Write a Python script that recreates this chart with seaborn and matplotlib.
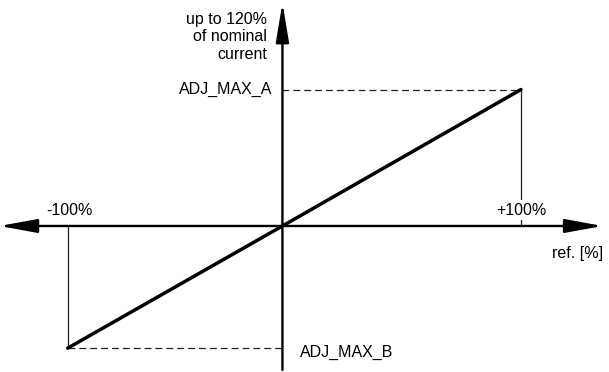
import matplotlib
matplotlib.use("Agg")
import matplotlib.pyplot as plt
import seaborn as sns
import pandas as pd

# ---- data (schematic) ----
ref = [-90, 0, 100]            # reference [%] positions of the line
current = [-89.5, 0, 100]      # output current (ADJ_MAX_B ... ADJ_MAX_A)
x_labels = ["-100%", "+100%"]
y_labels = ["ADJ_MAX_A", "ADJ_MAX_B"]
y_title = "up to 120%\nof nominal\ncurrent"
x_title = "ref. [%]"

sns.set_theme(style="white")
plt.rcParams["font.family"] = ["Liberation Sans", "DejaVu Sans"]
plt.rcParams["text.color"] = "black"

W, H = 609, 372
fig = plt.figure(figsize=(W / 100, H / 100), dpi=100)
ax = fig.add_axes([0, 0, 1, 1])
ax.axis("off")
ax.set_xlim(-118.4, 136.9)
ax.set_ylim(-107.0, 165.6)

df = pd.DataFrame({"ref": ref, "current": current})
FS = 11.5

# axes with arrows
ax.annotate("", xy=(134.2, 0), xytext=(-118.6, 0),
            arrowprops=dict(arrowstyle="<|-|>,head_length=2.3,head_width=0.42",
                            mutation_scale=10, lw=1.7, color="black",
                            shrinkA=0, shrinkB=0), zorder=3)
ax.annotate("", xy=(0, 163.6), xytext=(0, -105.5),
            arrowprops=dict(arrowstyle="-|>,head_length=2.4,head_width=0.4",
                            mutation_scale=10, lw=1.7, color="black",
                            shrinkA=0, shrinkB=0), zorder=3)

xa, xb = ref[-1], ref[0]
ya, yb = current[-1], current[0]

# guide lines
ax.plot([0, xa], [ya, ya], ls=(0, (5.5, 3.2)), lw=0.9, color="#222222", zorder=1)
ax.plot([xb, 0], [yb, yb], ls=(0, (5.5, 3.2)), lw=0.9, color="#222222", zorder=1)
ax.plot([xa, xa], [ya, 0], lw=0.9, color="#222222", zorder=1)
ax.plot([xb, xb], [0, yb], lw=0.9, color="#222222", zorder=1)

# main characteristic
sns.lineplot(data=df, x="ref", y="current", ax=ax, color="black", lw=2.5,
             zorder=4, legend=False)
ax.axis("off")

# texts
tkw = dict(fontsize=FS, color="black")
ax.annotate(y_labels[0], xy=(0, ya), xytext=(-7, -3.4), textcoords="offset points",
            ha="right", va="baseline", **tkw)
ax.annotate(y_labels[1], xy=(0, yb), xytext=(12.6, -6.3), textcoords="offset points",
            ha="left", va="baseline", **tkw)
ax.annotate(x_labels[0], xy=(xb, 0), xytext=(1, 8), textcoords="offset points",
            ha="center", va="baseline", **tkw)
ax.annotate(x_labels[1], xy=(xa, 0), xytext=(0, 8), textcoords="offset points",
            ha="center", va="baseline",
            bbox=dict(boxstyle="square,pad=0.15", fc="white", ec="none"), zorder=5,
            **tkw)
ax.annotate(x_title, xy=(1, 0), xycoords=("axes fraction", "data"),
            xytext=(-4, -23), textcoords="offset points",
            ha="right", va="baseline", **tkw)
ax.annotate(y_title, xy=(0, 1), xycoords=("data", "axes fraction"),
            xytext=(-11, -8.5), textcoords="offset points",
            ha="right", va="top", multialignment="right", linespacing=1.2,
            **tkw)

fig.savefig("out.png", dpi=100, facecolor="white")
